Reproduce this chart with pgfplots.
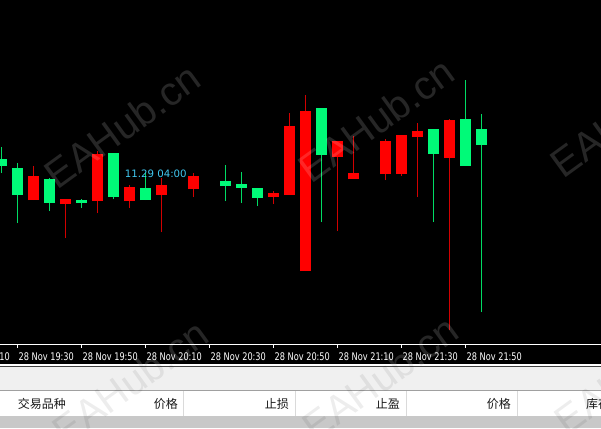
\documentclass[border=0pt]{standalone}
\usepackage{fontspec}
\usepackage{pgfplots}
\pgfplotsset{compat=1.18}
\usepackage{pgfplotstable}

\newfontfamily\lblfont[FakeStretch=0.78]{DejaVu Sans}
\newfontfamily\dvs{DejaVu Sans}
\newfontfamily\cjk{Noto Sans CJK SC}
\newfontfamily\wmfont{Liberation Sans}

\definecolor{bullg}{RGB}{0,250,120}
\definecolor{bearr}{RGB}{255,0,0}
\definecolor{wickg}{RGB}{0,220,100}
\definecolor{wickr}{RGB}{210,0,0}
\definecolor{infoc}{RGB}{64,200,240}
\definecolor{band}{RGB}{240,240,240}
\definecolor{sepl}{RGB}{160,160,160}
\definecolor{colsep}{RGB}{218,218,218}
\definecolor{foot}{RGB}{200,200,200}

% 5 min bars, i = 0 is 28 Nov 19:25; o h l c
\pgfplotstableread{
i  o   h   l   c
0  178 197 171 185
1  149 181 121 176
3  141 166 133 165
5  141 145 136 144
7  147 191 145 191
9  144 171 144 156
14 158 179 143 163
15 156 172 141 160
16 146 156 138 156
20 189 236 122 236
27 190 215 122 215
29 178 264 178 225
30 199 230 32  215
}\bull

\pgfplotstableread{
i  o   h   l   c
2  168 178 144 144
4  145 145 106 140
6  190 193 131 143
8  157 159 136 143
10 159 166 112 149
12 168 171 147 155
17 151 153 140 147
18 218 231 149 149
19 233 249 73  73
21 203 203 113 187
22 171 208 165 165
24 203 205 164 170
25 209 209 168 170
26 213 221 147 207
28 224 225 14  186
}\bear

\begin{document}
\begin{tikzpicture}[x=1pt,y=1pt]
% chart window and the terminal strip under it
\fill[black] (0,0) rectangle (601,-364);
\fill[white] (0,-364) rectangle (601,-366);
\fill[black!75] (0,-366) rectangle (601,-367);
\fill[band] (0,-367) rectangle (601,-390);
\fill[sepl] (0,-390) rectangle (601,-391.2);
\fill[white] (0,-391.2) rectangle (601,-415.5);
\fill[foot] (0,-415.5) rectangle (601,-428);
\foreach \sx in {183,295,406,517}
  \draw[colsep, line width=1pt] (\sx,-391.2) -- (\sx,-415.5);

\begin{axis}[
    at={(-50pt,0pt)}, anchor=north west,
    scale only axis, width=651pt, height=344pt,
    xmin=-3.21875, xmax=37.46875, ymin=0, ymax=344,
    axis x line*=bottom, axis y line=none,
    axis line style={white, line width=1pt},
    xtick={-3,1,...,29},
    xticklabels={28 Nov 19:10,28 Nov 19:30,28 Nov 19:50,28 Nov 20:10,28 Nov 20:30,28 Nov 20:50,28 Nov 21:10,28 Nov 21:30,28 Nov 21:50},
    tick align=outside, major tick length=3.5pt,
    x tick style={white, line width=1pt},
    xticklabel style={anchor=base west, inner sep=0pt, xshift=1pt, yshift=-13pt,
      text=white, font=\lblfont\fontsize{10.5}{12}\selectfont},
    ytick=\empty,
]
% wicks, low to high
\addplot[wickg, line width=1.4pt, quiver={u=0, v=\thisrow{h}-\thisrow{l}}]
    table[x=i, y=l] {\bull};
\addplot[wickr, line width=1.4pt, quiver={u=0, v=\thisrow{h}-\thisrow{l}}]
    table[x=i, y=l] {\bear};
% bodies, open to close
\addplot[bullg, line width=11pt, quiver={u=0, v=\thisrow{c}-\thisrow{o}}]
    table[x=i, y=o] {\bull};
\addplot[bearr, line width=11pt, quiver={u=0, v=\thisrow{o}-\thisrow{c}}]
    table[x=i, y=c] {\bear};
\end{axis}

\node[anchor=base west, inner sep=0pt, text=infoc,
  font=\dvs\fontsize{10.2}{12}\selectfont] at (124.7,-177.5) {11.29 04:00};

% column headers
\begin{scope}[every node/.style={inner sep=0pt, text=black!90,
    font=\cjk\fontsize{12}{14}\selectfont}]
\node[anchor=east] at (66,-403.5) {交易品种};
\node[anchor=east] at (178,-403.5) {价格};
\node[anchor=east] at (289,-403.5) {止损};
\node[anchor=east] at (400,-403.5) {止盈};
\node[anchor=east] at (511,-403.5) {价格};
\node[anchor=west] at (586,-403.5) {库存};
\end{scope}

% watermarks
\begin{scope}
\clip (0,0) rectangle (601,-364);
\foreach \wx/\wy in {122/126,376/120,628/115,130/382,380/378,632/372}
  \node[rotate=36, text=white, text opacity=0.15,
    font=\wmfont\fontsize{40}{40}\selectfont] at (\wx,-\wy) {EAHub.cn};
\end{scope}
\begin{scope}
\clip (0,-364) rectangle (601,-428);
\foreach \wx/\wy in {130/382,380/378,632/372}
  \node[rotate=36, text=black, text opacity=0.07,
    font=\wmfont\fontsize{40}{40}\selectfont] at (\wx,-\wy) {EAHub.cn};
\end{scope}

\pgfresetboundingbox
\useasboundingbox (0,0) rectangle (601,-428);
\end{tikzpicture}
\end{document}
